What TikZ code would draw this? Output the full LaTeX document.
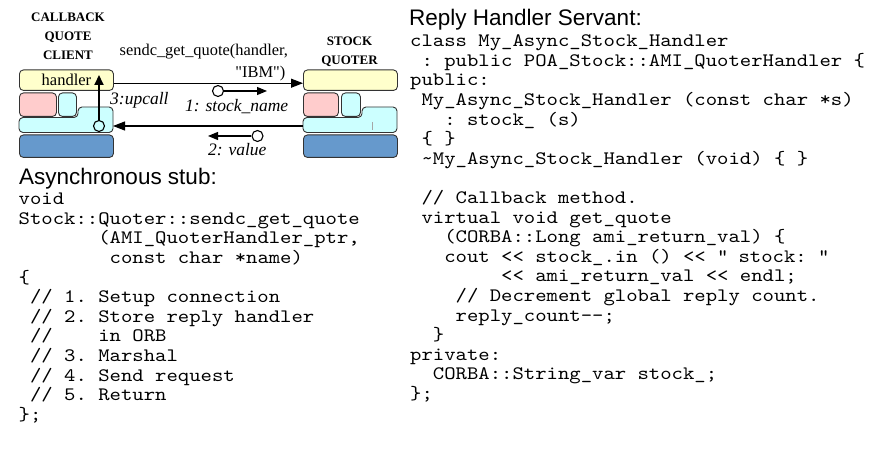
\documentclass[tikz,border=0pt]{standalone}
\usepackage{fontspec}
\setmainfont{Liberation Serif}
\setsansfont{Liberation Sans}
\setmonofont{lmmono10-regular.otf}[FakeStretch=1.14]
\usetikzlibrary{arrows.meta}

\definecolor{orbyellow}{HTML}{FFFFCC}
\definecolor{orbpink}{HTML}{FFCCCC}
\definecolor{orbcyan}{HTML}{CCFFFF}
\definecolor{orbblue}{HTML}{6699CC}

\newcommand\codesize{\ttfamily\fontsize{19}{19.6}\selectfont\frenchspacing\lineskiplimit=-20pt\relax}
\newcommand\firstline{\rule{0pt}{16pt}}

\tikzset{
  orbline/.style={draw=black!80, line width=0.9pt, rounded corners=4pt},
  slab/.style={orbline, inner sep=0pt, anchor=north west},
  msg/.style={line width=1.1pt, -{Triangle[length=12pt,width=9pt]}},
  hop/.style={line width=1.1pt, -{Triangle[length=10pt,width=8pt]}},
  ring/.style={circle, draw, line width=1.1pt, minimum size=11pt, inner sep=0pt},
  lbl/.style={inner sep=0pt, anchor=base west, font=\itshape\fontsize{17.5}{20}\selectfont},
  call/.style={inner sep=0pt, font=\fontsize{16.4}{18}\selectfont},
  party/.style={inner sep=0pt, anchor=north, align=center, font=\bfseries\fontsize{13}{19}\selectfont},
  head/.style={inner sep=0pt, anchor=base west, font=\sffamily\fontsize{22.5}{26}\selectfont},
  code/.style={inner sep=0pt, anchor=north west, align=left, font=\codesize}
}

\begin{document}
\begin{tikzpicture}[x=1pt, y=-1pt]
\path[fill=white, use as bounding box] (0,0) rectangle (886,454);

% client side
\node[party] (client) at (68,7.7) {\strut CALLBACK\\QUOTE\\CLIENT};
\node[slab, fill=orbyellow, minimum width=94pt, minimum height=20.5pt, font=\fontsize{16.5}{18}\selectfont] (cl-top) at (19,69.5) {handler\hspace{12pt}};
\node[slab, fill=orbpink, minimum width=37pt, minimum height=23.5pt] (cl-pink) at (19,92.5) {};
\node[slab, fill=orbcyan, minimum width=18pt, minimum height=23.5pt] (cl-cyan) at (58,92.5) {};
\draw[orbline, fill=orbcyan] (19,117.5) -- (78,117.5) -- (78,107) -- (113,107) -- (113,132.5) -- (19,132.5) -- cycle;
\node[slab, fill=orbblue, minimum width=94pt, minimum height=22.5pt] (cl-base) at (19,134.5) {};
\coordinate (cl-orb) at (113,126);

% quoter side
\node[party] (quoter) at (349.5,31.7) {\strut STOCK\\QUOTER};
\node[slab, fill=orbyellow, minimum width=94pt, minimum height=20.5pt] (sq-top) at (303,69.5) {};
\node[slab, fill=orbpink, minimum width=35pt, minimum height=23.5pt] (sq-pink) at (303,92.5) {};
\node[slab, fill=orbcyan, minimum width=19pt, minimum height=23.5pt] (sq-cyan) at (341,92.5) {};
\draw[orbline, fill=orbcyan] (303,117.5) -- (362,117.5) -- (362,107) -- (397,107) -- (397,132.5) -- (303,132.5) -- cycle;
\draw[black!35, line width=0.6pt] (372,122) -- (372,130);
\node[slab, fill=orbblue, minimum width=94pt, minimum height=22.5pt] (sq-base) at (303,134.5) {};
\coordinate (sq-orb) at (303,126);

% request and reply
\draw[msg] ([yshift=-3pt]cl-top.east) -- ([yshift=-3pt]sq-top.west);
\draw[msg] (sq-orb) -- (cl-orb);
\node[call, anchor=base west] (call) at (119.5,55.5) {sendc\_get\_quote(handler,};
\node[call, anchor=base east] (call-arg) at (285.5,77.5) {\textquotedbl IBM\textquotedbl)};

\node[ring] (req) at (218,91) {};
\coordinate (req-tip) at (267,91);
\draw[hop] (req) -- (req-tip);
\node[lbl] (req-lbl) at (185,112) {1: stock\_name};

\node[ring] (rep) at (257.5,136) {};
\coordinate (rep-tip) at (208,136);
\draw[hop] (rep) -- (rep-tip);
\node[lbl] (rep-lbl) at (208,156) {2: value};

\node[ring] (up) at (99,126) {};
\coordinate (up-tip) at (99,75);
\draw[line width=2pt, -{Triangle[length=10pt,width=9pt]}] (up) -- (up-tip);
\node[lbl] (up-lbl) at (110,105) {3:upcall};

% stub code
\node[head] (stub-head) at (19,185) {Asynchronous stub:};
\node[code] (stub) at (18.5,188.5) {\firstline void\\
Stock::Quoter::sendc\_get\_quote\\
\ \ \ \ \ \ \ (AMI\_QuoterHandler\_ptr,\\
\ \ \ \ \ \ \ \ const char *name)\\
\{\\
\ // 1. Setup connection\\
\ // 2. Store reply handler\\
\ //\ \ \ \ in ORB\\
\ // 3. Marshal\\
\ // 4. Send request\\
\ // 5. Return\\
\};};

% servant code
\node[head] (servant-head) at (409,26) {Reply Handler Servant:};
\node[code] (servant) at (410,30.5) {\firstline class My\_Async\_Stock\_Handler\\
\ : public POA\_Stock::AMI\_QuoterHandler \{\\
public:\\
\ My\_Async\_Stock\_Handler (const char *s)\\
\ \ \ : stock\_ (s)\\
\ \{ \}\\
\ \textasciitilde My\_Async\_Stock\_Handler (void) \{ \}\\
\strut\\
\ // Callback method.\\
\ virtual void get\_quote\\
\ \ \ (CORBA::Long ami\_return\_val) \{\\
\ \ \ cout <{}< stock\_.in () <{}< \textquotedbl\ stock: \textquotedbl\\
\ \ \ \ \ \ \ \ <{}< ami\_return\_val <{}< endl;\\
\ \ \ \ // Decrement global reply count.\\
\ \ \ \ reply\_count-{}-;\\
\ \ \}\\
private:\\
\ \ CORBA::String\_var stock\_;\\
\};};
\end{tikzpicture}
\end{document}
